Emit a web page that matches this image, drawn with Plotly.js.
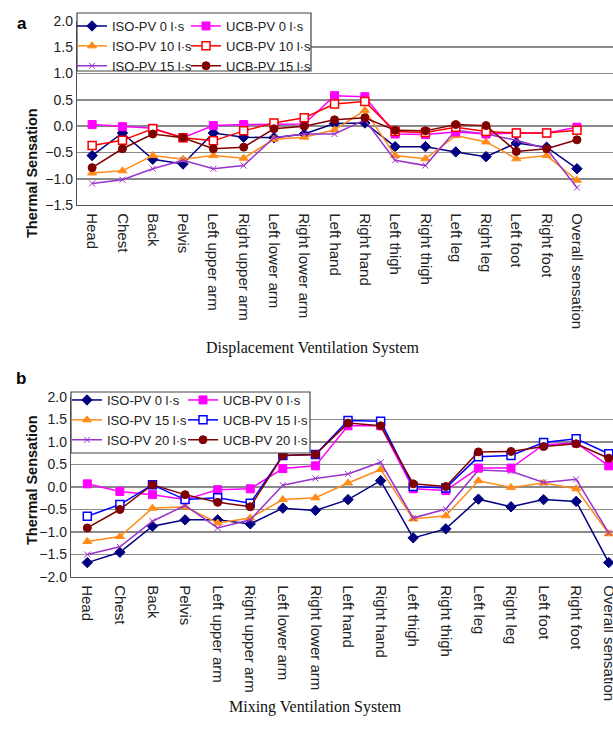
<!DOCTYPE html>
<html>
<head>
<meta charset="utf-8">
<script src="https://cdn.plot.ly/plotly-3.0.1.min.js"></script>
<style>html,body{margin:0;padding:0;background:#fff;}#chart{width:613px;height:733px;}</style>
</head>
<body>
<div id="chart"></div>
<script>
const categories = ["Head","Chest","Back","Pelvis","Left upper arm","Right upper arm","Left lower arm","Right lower arm","Left hand","Right hand","Left thigh","Right thigh","Left leg","Right leg","Left foot","Right foot","Overall sensation"];

// (a) Displacement ventilation
const dvIso0  = [-0.56,-0.13,-0.63,-0.72,-0.13,-0.21,-0.22,-0.15,0.05,0.06,-0.39,-0.39,-0.49,-0.58,-0.32,-0.40,-0.81];
const dvUcb0  = [0.03,-0.01,-0.04,-0.22,0.01,0.03,0.04,0.04,0.58,0.56,-0.15,-0.16,-0.11,-0.15,-0.13,-0.13,-0.02];
const dvIso10 = [-0.89,-0.85,-0.56,-0.63,-0.56,-0.61,-0.25,-0.21,-0.07,0.30,-0.56,-0.62,-0.18,-0.30,-0.62,-0.56,-1.03];
const dvUcb10 = [-0.37,-0.27,-0.05,-0.22,-0.28,-0.09,0.06,0.16,0.42,0.47,-0.10,-0.12,-0.02,-0.10,-0.13,-0.13,-0.08];
const dvIso15 = [-1.09,-1.02,-0.81,-0.65,-0.81,-0.75,-0.22,-0.15,-0.15,0.12,-0.65,-0.75,-0.08,-0.15,-0.27,-0.43,-1.17];
const dvUcb15 = [-0.79,-0.43,-0.15,-0.22,-0.43,-0.40,-0.05,0.00,0.12,0.16,-0.08,-0.09,0.03,0.01,-0.48,-0.43,-0.26];

// (b) Mixing ventilation
const mvIso0  = [-1.68,-1.45,-0.87,-0.73,-0.73,-0.82,-0.47,-0.52,-0.28,0.14,-1.13,-0.93,-0.27,-0.44,-0.28,-0.32,-1.68];
const mvUcb0  = [0.07,-0.10,-0.17,-0.28,-0.06,-0.04,0.41,0.47,1.36,1.36,-0.04,-0.08,0.42,0.42,0.94,0.98,0.47];
const mvIso15 = [-1.21,-1.10,-0.47,-0.44,-0.80,-0.69,-0.28,-0.24,0.09,0.39,-0.71,-0.64,0.14,-0.01,0.09,-0.04,-1.04];
const mvUcb15 = [-0.65,-0.39,0.05,-0.28,-0.24,-0.36,0.70,0.72,1.48,1.46,0.01,-0.02,0.67,0.70,0.99,1.07,0.74];
const mvIso20 = [-1.50,-1.33,-0.76,-0.41,-0.91,-0.73,0.04,0.19,0.29,0.55,-0.69,-0.49,0.38,0.35,0.10,0.17,-1.02];
const mvUcb20 = [-0.91,-0.50,0.05,-0.17,-0.34,-0.44,0.70,0.72,1.42,1.36,0.07,0.01,0.78,0.79,0.90,0.96,0.64];

const W = 613, H = 733;
const px = v => v / W;
const py = v => 1 - v / H;

const NAVY = '#000080', MAG = '#ff00ff', ORG = '#ff8c1a', RED = '#ff0000', PUR = '#9933cc', MAR = '#800000', BLU = '#0000ff';

function tr(name, y, color, symbol, xa, ya, legend, size, open) {
  return {
    type: 'scatter', mode: 'lines+markers', name: name,
    x: categories, y: y, xaxis: xa, yaxis: ya, legend: legend,
    line: {color: color, width: 1.5},
    marker: open ? {symbol: symbol, size: size, color: '#ffffff', line: {color: color, width: 1.5}}
                 : {symbol: symbol, size: size, color: color, line: {color: color, width: 1}},
    cliponaxis: false
  };
}

const data = [
  tr('ISO-PV 0 l·s',  dvIso0,  NAVY, 'diamond', 'x', 'y', 'legend', 8),
  tr('ISO-PV 10 l·s', dvIso10, ORG,  'triangle-up', 'x', 'y', 'legend', 8),
  tr('ISO-PV 15 l·s', dvIso15, PUR,  'x-thin-open', 'x', 'y', 'legend', 6),
  tr('UCB-PV 0 l·s',  dvUcb0,  MAG,  'square', 'x', 'y', 'legend2', 8),
  tr('UCB-PV 10 l·s', dvUcb10, RED,  'square', 'x', 'y', 'legend2', 8, true),
  tr('UCB-PV 15 l·s', dvUcb15, MAR,  'circle', 'x', 'y', 'legend2', 8),

  tr('ISO-PV 0 l·s',  mvIso0,  NAVY, 'diamond', 'x2', 'y2', 'legend3', 8),
  tr('ISO-PV 15 l·s', mvIso15, ORG,  'triangle-up', 'x2', 'y2', 'legend3', 8),
  tr('ISO-PV 20 l·s', mvIso20, PUR,  'x-thin-open', 'x2', 'y2', 'legend3', 6),
  tr('UCB-PV 0 l·s',  mvUcb0,  MAG,  'square', 'x2', 'y2', 'legend4', 8),
  tr('UCB-PV 15 l·s', mvUcb15, BLU,  'square', 'x2', 'y2', 'legend4', 8, true),
  tr('UCB-PV 20 l·s', mvUcb20, MAR,  'circle', 'x2', 'y2', 'legend4', 8)
];

const yTickFont = {family: 'Liberation Sans, Arial, sans-serif', size: 14, color: '#222'};
const xTickFont = {family: 'Liberation Sans, Arial, sans-serif', size: 15, color: '#222'};
const gridCol = '#8a8a8a';

function xax(domainL, anchor, rmax) {
  return {
    domain: [px(domainL), 1], anchor: anchor, type: 'category',
    range: [-0.5, rmax], tickangle: 90, tickfont: xTickFont, ticklabelstandoff: 4,
    showgrid: false, showline: true, linecolor: '#555', linewidth: 1.2,
    ticks: '', fixedrange: true
  };
}
function yax(top, bottom, anchor, rng) {
  return {
    domain: [py(bottom), py(top)], anchor: anchor, range: rng,
    dtick: 0.5, tick0: 0, tickformat: '.1f', tickfont: yTickFont,
    showgrid: true, gridcolor: gridCol, gridwidth: 1.6, zeroline: false,
    showline: true, linecolor: '#555', linewidth: 1.2, ticks: '', fixedrange: true
  };
}

const legFont = {family: 'Liberation Sans, Arial, sans-serif', size: 13, color: '#222'};
function leg(x, y) {
  return {x: px(x), y: py(y), xanchor: 'left', yanchor: 'top', bgcolor: 'rgba(0,0,0,0)',
          borderwidth: 0, font: legFont, tracegroupgap: 0, orientation: 'v'};
}

const layout = {
  width: W, height: H, margin: {l: 0, r: 0, t: 0, b: 0},
  paper_bgcolor: '#fff', plot_bgcolor: '#fff', showlegend: true,
  xaxis: xax(77, 'y', 17.19),
  yaxis: yax(21, 205, 'x', [-1.5, 2.0]),
  xaxis2: xax(71, 'y2', 16.13),
  yaxis2: yax(397, 577, 'x2', [-2.0, 2.0]),
  legend: leg(72, 11),
  legend2: leg(186, 11),
  legend3: leg(67, 385),
  legend4: leg(183, 385),
  shapes: [
    {type: 'rect', xref: 'paper', yref: 'paper', x0: px(77), x1: px(311), y0: py(13), y1: py(71),
     line: {color: '#444', width: 1.2}, fillcolor: '#fff', layer: 'above'},
    {type: 'rect', xref: 'paper', yref: 'paper', x0: px(71), x1: px(310), y0: py(392), y1: py(453),
     line: {color: '#444', width: 1.2}, fillcolor: '#fff', layer: 'above'}
  ],
  annotations: [
    {text: '<b>a</b>', xref: 'paper', yref: 'paper', x: px(15), y: py(12), showarrow: false,
     font: {family: 'Liberation Sans, Arial', size: 17, color: '#000'}},
    {text: '<b>b</b>', xref: 'paper', yref: 'paper', x: px(14), y: py(378), showarrow: false,
     font: {family: 'Liberation Sans, Arial', size: 17, color: '#000'}},
    {text: '<b>Thermal Sensation</b>', xref: 'paper', yref: 'paper', x: px(22), y: py(106), textangle: -90,
     showarrow: false, font: {family: 'Liberation Sans, Arial', size: 14.5, color: '#111'}},
    {text: '<b>Thermal Sensation</b>', xref: 'paper', yref: 'paper', x: px(22), y: py(480), textangle: -90,
     showarrow: false, font: {family: 'Liberation Sans, Arial', size: 14.5, color: '#111'}},
    {text: 'Displacement Ventilation System', xref: 'paper', yref: 'paper', x: px(313), y: py(348),
     showarrow: false, font: {family: 'Liberation Serif, Times New Roman, serif', size: 16, color: '#111'}},
    {text: 'Mixing Ventilation System', xref: 'paper', yref: 'paper', x: px(315), y: py(718),
     showarrow: false, font: {family: 'Liberation Serif, Times New Roman, serif', size: 16, color: '#111'}}
  ]
};

Plotly.newPlot('chart', data, layout, {staticPlot: true, displayModeBar: false});
</script>
</body>
</html>
